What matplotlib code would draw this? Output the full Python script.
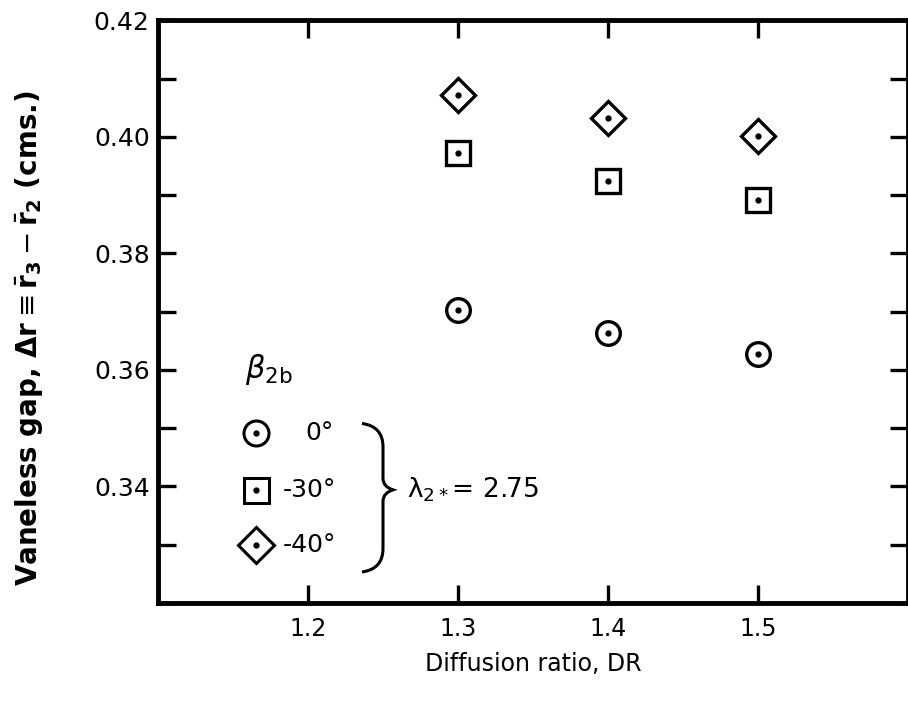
import numpy as np
import matplotlib
matplotlib.use('Agg')
import matplotlib.pyplot as plt
from matplotlib.path import Path
from matplotlib.patches import PathPatch
from matplotlib.ticker import MultipleLocator

plt.rcParams['font.family'] = ['DejaVu Sans']
plt.rcParams['mathtext.fontset'] = 'dejavusans'

# data
dr = [1.3, 1.4, 1.5]
gap_0deg = [0.3702, 0.3663, 0.3627]
gap_m30deg = [0.3972, 0.3925, 0.3891]
gap_m40deg = [0.4071, 0.4033, 0.4001]

series = [(gap_0deg, 'o', '0°'), (gap_m30deg, 's', '-30°'), (gap_m40deg, 'D', '-40°')]

fig = plt.figure(figsize=(9.08, 7.01), dpi=100)
ax = fig.add_axes([0.174, 0.140, 0.826, 0.831])

for vals, mk, lab in series:
    ax.plot(dr, vals, ls='none', marker=mk, ms=17, mfc='white', mec='black', mew=2.4)
    ax.plot(dr, vals, ls='none', marker='o', ms=3.5, color='black')

ax.set_xlim(1.1, 1.6)
ax.set_ylim(0.32, 0.42)
ax.set_xticks([1.2, 1.3, 1.4, 1.5])
ax.set_yticks([0.34, 0.36, 0.38, 0.40, 0.42])
ax.set_yticklabels(['0.34', '0.36', '0.38', '0.40', '0.42'])
ax.yaxis.set_minor_locator(MultipleLocator(0.01))
ax.tick_params(which='both', direction='in', length=13, width=2.4, top=True, right=True, labelsize=17)
ax.tick_params(axis='y', labelsize=18, pad=6)
ax.tick_params(axis='x', pad=10)
for s in ax.spines.values():
    s.set_linewidth(3.5)

ax.set_xlabel('Diffusion ratio, DR', fontsize=17, labelpad=8)
ax.set_ylabel(r'Vaneless gap, $\mathbf{\Delta r} \equiv \bar{\mathbf{r}}_\mathbf{3} - \bar{\mathbf{r}}_\mathbf{2}$ (cms.)',
              fontsize=20, fontweight='bold')
ax.yaxis.set_label_coords(-0.150, 0.455)

# in-plot key
ax.text(1.158, 0.360, r'$\beta_{\mathrm{2b}}$', fontsize=22, va='center', ha='left')
key_y = [0.3492, 0.3394, 0.3299]
key_x = [1.198, 1.1833, 1.1833]
for (vals, mk, lab), ky, kx in zip(series, key_y, key_x):
    ax.plot([1.1653], [ky], ls='none', marker=mk, ms=18, mfc='white', mec='black', mew=2.2)
    ax.plot([1.1653], [ky], ls='none', marker='o', ms=3.5, color='black')
    ax.text(kx, ky, lab, fontsize=18, va='center', ha='left')

# brace
x0, x1, xm = 1.236, 1.2500, 1.2567
yt, ym, yb = 0.3508, 0.3394, 0.3253
verts = [(x0, yt), (x1, yt - 0.0005), (x1, yt - 0.004),
         (x1, ym + 0.002), (x1, ym + 0.0005), (xm, ym),
         (x1, ym - 0.0005), (x1, ym - 0.002),
         (x1, yb + 0.004), (x1, yb + 0.0005), (x0, yb)]
codes = [Path.MOVETO, Path.CURVE3, Path.CURVE3,
         Path.LINETO, Path.CURVE3, Path.CURVE3,
         Path.CURVE3, Path.CURVE3,
         Path.LINETO, Path.CURVE3, Path.CURVE3]
ax.add_patch(PathPatch(Path(verts, codes), fill=False, lw=2.2, color='black'))
ax.text(1.266, 0.3394, r'$\mathrm{\lambda}_{\mathrm{2*}}$= 2.75', fontsize=19, va='center', ha='left')

fig.savefig('out.png', dpi=100)
